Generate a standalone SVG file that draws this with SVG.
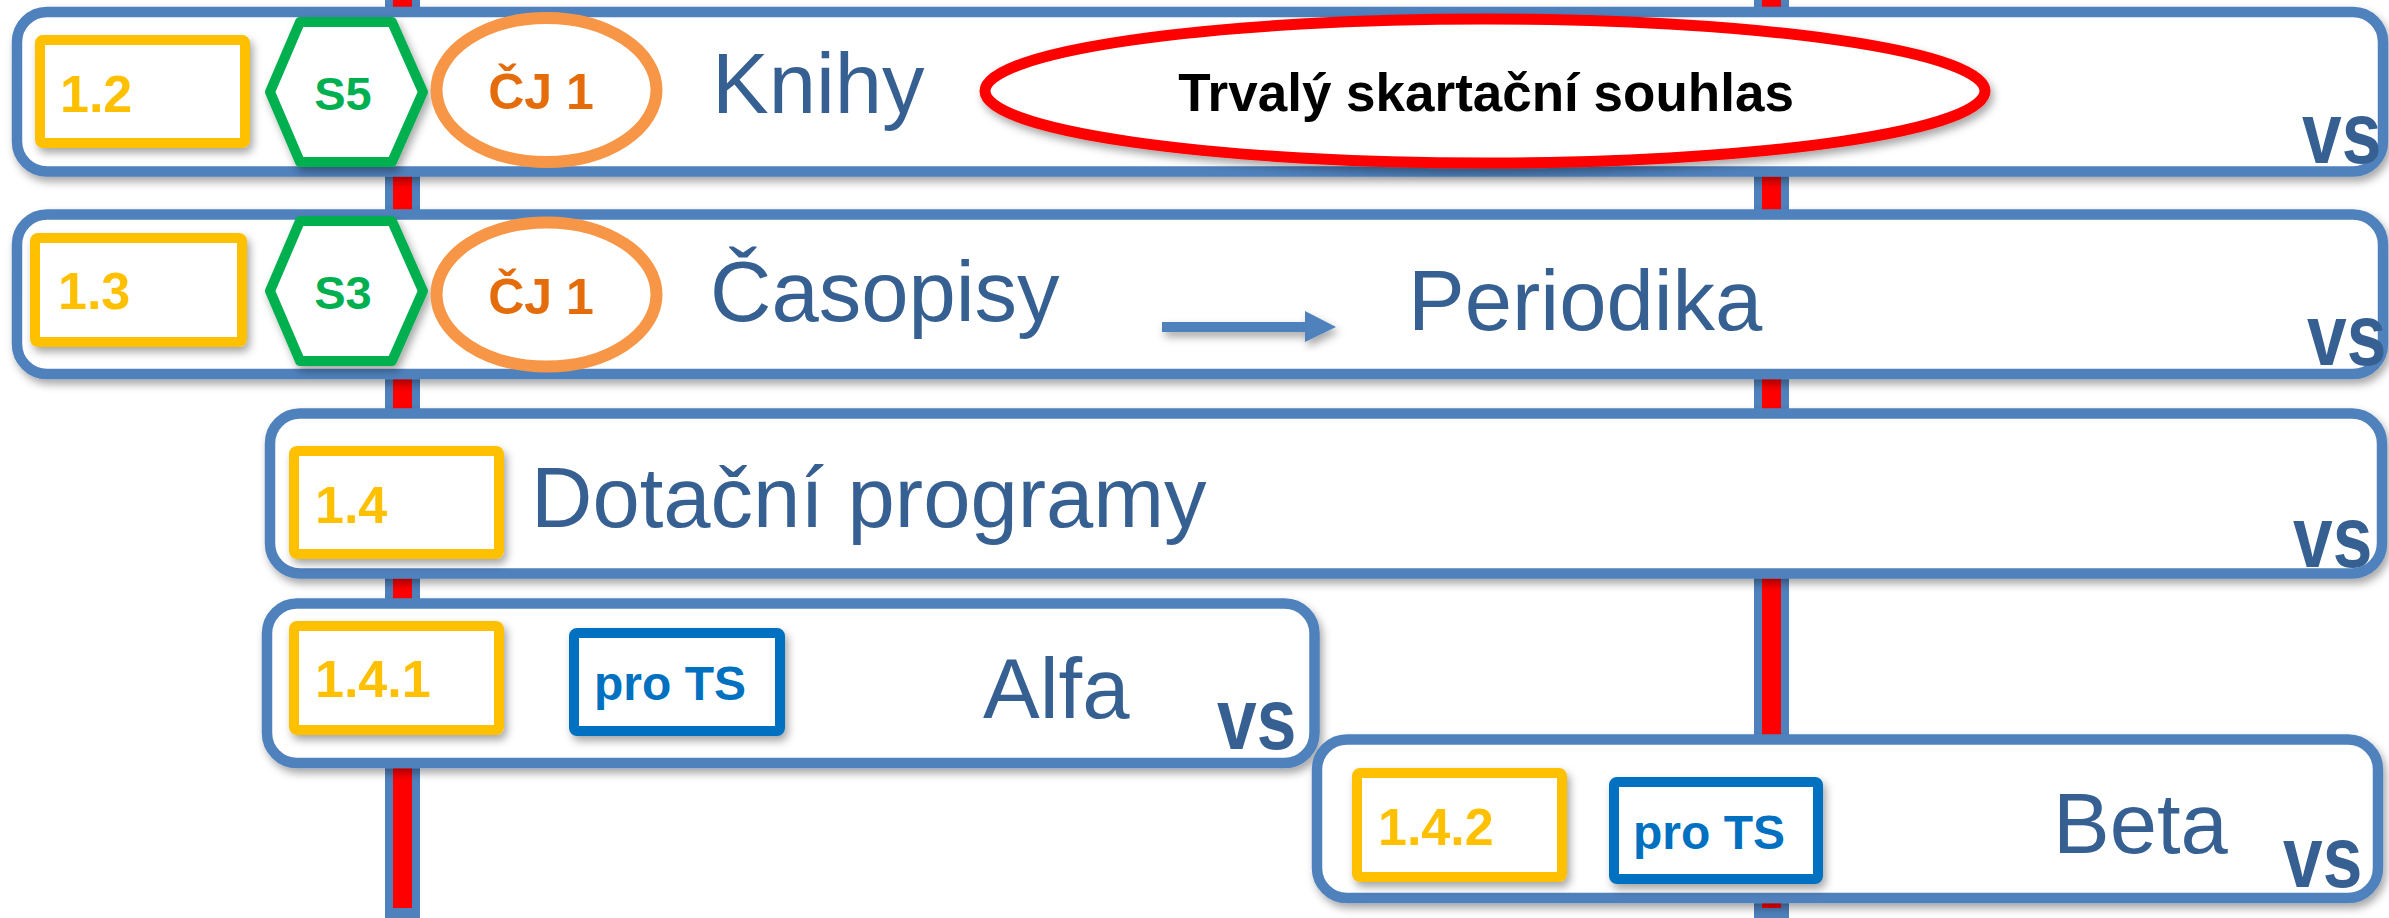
<svg xmlns="http://www.w3.org/2000/svg" width="2389" height="918" viewBox="0 0 2389 918">
<defs>
<filter id="sh" x="-10%" y="-20%" width="120%" height="150%">
<feDropShadow dx="3" dy="5" stdDeviation="4" flood-color="#000" flood-opacity="0.35"/>
</filter>
</defs>
<style>
.row{fill:#fff;stroke:#4F81BD;stroke-width:10.5}
.yb{fill:#fff;stroke:#FFC000;stroke-width:10}
.bb{fill:#fff;stroke:#0070C0;stroke-width:10}
.hex{fill:#fff;stroke:#00B050;stroke-width:10;stroke-linejoin:round}
.cj{fill:#fff;stroke:#F79646;stroke-width:12}
.num{font-family:"Liberation Sans",Arial,sans-serif;font-weight:bold;font-size:52px;fill:#FFC000}
.big{font-family:"Liberation Sans",Arial,sans-serif;font-size:85px;fill:#376092}
.vs{font-family:"Liberation Sans",Arial,sans-serif;font-weight:bold;font-size:87px;fill:#376092}
.s{font-family:"Liberation Sans",Arial,sans-serif;font-weight:bold;font-size:47px;fill:#00B050;text-anchor:middle}
.cjt{font-family:"Liberation Sans",Arial,sans-serif;font-weight:bold;font-size:50px;fill:#E46C0A;text-anchor:middle}
.ts{font-family:"Liberation Sans",Arial,sans-serif;font-weight:bold;font-size:48px;fill:#0070C0}
.vline{fill:#FF0000;stroke:#4F81BD;stroke-width:10}
</style>
<g id="connectors">
<rect class="vline" x="388" y="-20" width="29" height="933" filter="url(#sh)"/>
<rect class="vline" x="1757" y="-20" width="29" height="933" filter="url(#sh)"/>
</g>
<g id="row-1-2">
<rect class="row" x="17" y="12" width="2366" height="159.5" rx="30" filter="url(#sh)"/>
<rect class="yb" x="40" y="40" width="205" height="103" rx="3" filter="url(#sh)"/>
<text class="num" x="60" y="112">1.2</text>
<polygon class="hex" points="270,92 300,22 392,22 423,92 392,162 300,162" filter="url(#sh)"/>
<text class="s" x="343" y="110">S5</text>
<ellipse class="cj" cx="546.5" cy="90" rx="110" ry="72"/>
<text class="cjt" x="541" y="109">ČJ 1</text>
<text class="big" x="712" y="113">Knihy</text>
<ellipse cx="1485" cy="91" rx="500" ry="72" fill="#fff" stroke="#FF0000" stroke-width="11" filter="url(#sh)"/>
<text x="1486" y="111" font-family="Liberation Sans, Arial, sans-serif" font-weight="bold" font-size="53" fill="#000" text-anchor="middle">Trvalý skartační souhlas</text>
<text class="vs" transform="translate(2302,163) scale(0.82,1)">vs</text>
</g>
<g id="row-1-3">
<rect class="row" x="17" y="214.5" width="2366" height="159.5" rx="30" filter="url(#sh)"/>
<rect class="yb" x="35" y="238" width="207" height="104" rx="3" filter="url(#sh)"/>
<text class="num" x="58" y="309">1.3</text>
<polygon class="hex" points="270,291 300,221 392,221 423,291 392,361 300,361" filter="url(#sh)"/>
<text class="s" x="343" y="309">S3</text>
<ellipse class="cj" cx="546.5" cy="294.5" rx="110" ry="72"/>
<text class="cjt" x="541" y="314">ČJ 1</text>
<text class="big" x="710" y="321">Časopisy</text>
<text class="big" x="1408" y="330">Periodika</text>
<text class="vs" transform="translate(2307,365) scale(0.82,1)">vs</text>
</g>
<g id="arrow">
<polygon points="1162,322 1305,322 1305,311 1336,327 1305,342 1305,332 1162,332" fill="#4F81BD" filter="url(#sh)"/>
</g>
<g id="row-1-4">
<rect class="row" x="270" y="413.5" width="2112" height="160" rx="30" filter="url(#sh)"/>
<rect class="yb" x="294" y="451" width="205" height="103" rx="3" filter="url(#sh)"/>
<text class="num" x="315" y="523">1.4</text>
<text class="big" x="531" y="527">Dotační programy</text>
<text class="vs" transform="translate(2293,567) scale(0.82,1)">vs</text>
</g>
<g id="row-1-4-1">
<rect class="row" x="267" y="603.5" width="1047.5" height="159.5" rx="30" filter="url(#sh)"/>
<rect class="yb" x="294" y="626" width="205" height="104" rx="3" filter="url(#sh)"/>
<text class="num" x="315" y="697">1.4.1</text>
<rect class="bb" x="574" y="633" width="206" height="98" rx="3" filter="url(#sh)"/>
<text class="ts" x="594" y="700">pro TS</text>
<text class="big" x="983" y="718">Alfa</text>
<text class="vs" transform="translate(1217,749) scale(0.82,1)">vs</text>
</g>
<g id="row-1-4-2">
<rect class="row" x="1317" y="739.5" width="1061" height="158.5" rx="30" filter="url(#sh)"/>
<rect class="yb" x="1357" y="773" width="205" height="104" rx="3" filter="url(#sh)"/>
<text class="num" x="1378" y="845">1.4.2</text>
<rect class="bb" x="1614" y="782" width="204" height="97" rx="3" filter="url(#sh)"/>
<text class="ts" x="1633" y="849">pro TS</text>
<text class="big" x="2053" y="853">Beta</text>
<text class="vs" transform="translate(2283,887) scale(0.82,1)">vs</text>
</g>
</svg>
